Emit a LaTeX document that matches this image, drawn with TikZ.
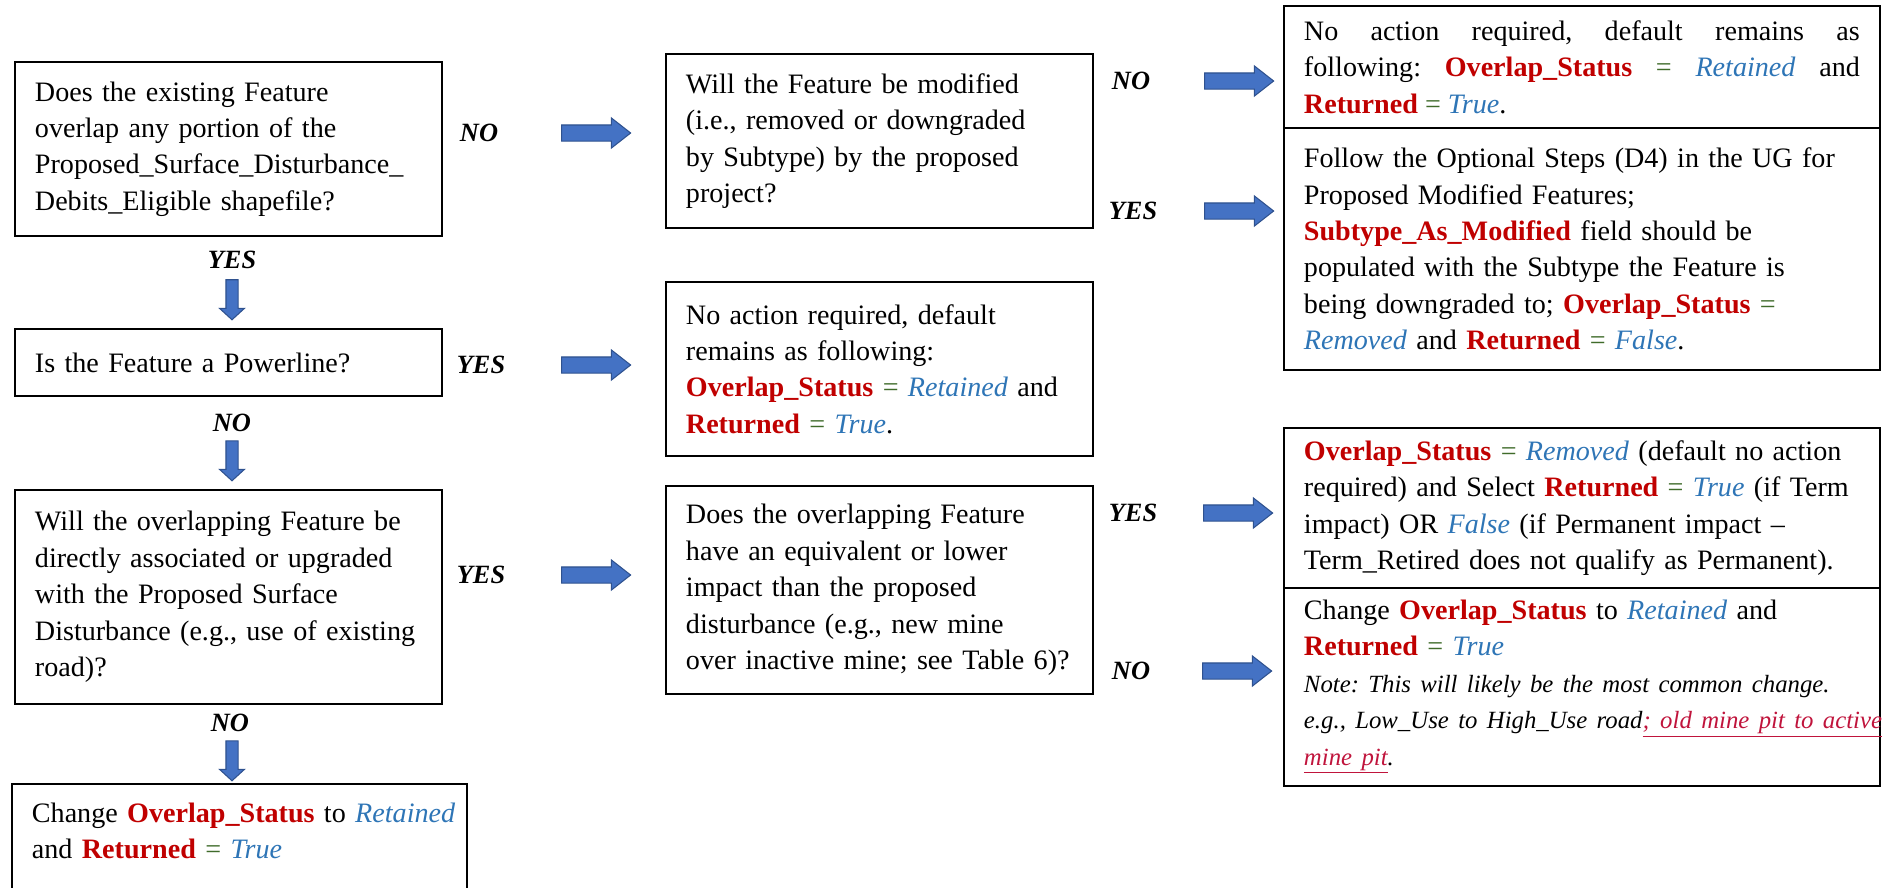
\documentclass[tikz,border=0pt]{standalone}
\usepackage{fontspec}
\setmainfont{Liberation Serif}
\usetikzlibrary{shapes.arrows}
\frenchspacing

\definecolor{fieldred}{HTML}{C00000}
\definecolor{valblue}{HTML}{2E75B6}
\definecolor{eqgreen}{HTML}{3F6B2A}
\definecolor{notered}{HTML}{C0143C}
\definecolor{arrowblue}{HTML}{4472C4}
\definecolor{arrowedge}{HTML}{2F528F}

\newcommand{\fieldname}[1]{\textcolor{fieldred}{\textbf{#1}}}
\newcommand{\fieldval}[1]{\textcolor{valblue}{\textit{#1}}}
\newcommand{\eqsign}{\textcolor{eqgreen}{=}}
\newcommand{\notefont}{\fontsize{14.1}{20.7}\selectfont\itshape}

\begin{document}
\begin{tikzpicture}[
    x = 0.02cm, y = -0.02cm, % one unit = one pixel, y runs down
    box/.style = {draw, line width=1.1pt, anchor=north west, align=left,
        inner xsep=0.4cm, inner ysep=0pt, font=\fontsize{16}{20.7}\selectfont},
    narrowbox/.style = {box, text width=7.74cm, minimum width=8.54cm},
    widebox/.style = {box, text width=11.12cm, minimum width=11.92cm},
    lbl/.style = {font=\fontsize{15}{16}\selectfont\bfseries\itshape},
    rightarrow/.style = {single arrow, draw=arrowedge, fill=arrowblue, line width=0.6pt,
        inner sep=0.15cm, single arrow head extend=0.14cm,
        single arrow tip angle=76, minimum height=1.38cm},
    downarrow/.style = {rightarrow, rotate=-90, inner sep=0.11cm,
        single arrow head extend=0.13cm, single arrow tip angle=95, minimum height=0.8cm}
    ]
    \useasboundingbox (0,0) rectangle (1900,887);
    \clip (0,0) rectangle (1900,887);

    % left column
    \node[narrowbox, minimum height=3.48cm] (b1) at (14,61)
        {Does the existing Feature\\ overlap any portion of the\\
         Proposed\_Surface\_Disturbance\_\\ Debits\_Eligible shapefile?};
    \node[narrowbox, minimum height=1.34cm] (b2) at (14,328)
        {Is the Feature a Powerline?};
    \node[narrowbox, minimum height=4.28cm] (b3) at (14,489)
        {Will the overlapping Feature be\\ directly associated or upgraded\\
         with the Proposed Surface\\ Disturbance (e.g., use of existing\\ road)?};
    \node[box, text width=8.3cm, minimum width=9.1cm, minimum height=2.6cm] (b4) at (11,783)
        {\mbox{Change \fieldname{Overlap\_Status} to \fieldval{Retained}}\\
         and \fieldname{Returned} \eqsign{} \fieldval{True}\\ \mbox{}};

    % middle column
    \node[narrowbox, minimum height=3.48cm] (b5) at (665,53)
        {Will the Feature be modified\\ (i.e., removed or downgraded\\
         by Subtype) by the proposed\\ project?};
    \node[narrowbox, minimum height=3.48cm] (b6) at (665,281)
        {No action required, default\\ remains as following:\\
         \fieldname{Overlap\_Status} \eqsign{} \fieldval{Retained} and\\
         \fieldname{Returned} \eqsign{} \fieldval{True}.};
    \node[narrowbox, minimum height=4.16cm] (b7) at (665,485)
        {Does the overlapping Feature\\ have an equivalent or lower\\
         impact than the proposed\\ disturbance (e.g., new mine\\
         over inactive mine; see Table 6)?};

    % right column
    \node[widebox, align=justify, minimum height=2.44cm] (b8) at (1283,5)
        {No action required, default remains as\linebreak
         following: \fieldname{Overlap\_Status} \eqsign{} \fieldval{Retained} and\linebreak
         \fieldname{Returned} \eqsign{} \fieldval{True}.};
    \node[widebox, minimum height=4.84cm] (b9) at (1283,127)
        {Follow the Optional Steps (D4) in the UG for\\
         Proposed Modified Features;\\
         \fieldname{Subtype\_As\_Modified} field should be\\
         populated with the Subtype the Feature is\\
         being downgraded to; \fieldname{Overlap\_Status} \eqsign\\
         \fieldval{Removed} and \fieldname{Returned} \eqsign{} \fieldval{False}.};
    \node[widebox, minimum height=3.2cm] (b10) at (1283,427)
        {\fieldname{Overlap\_Status} \eqsign{} \fieldval{Removed} (default no action\\
         required) and Select \fieldname{Returned} \eqsign{} \fieldval{True} (if Term\\
         impact) OR \fieldval{False} (if Permanent impact --\\
         Term\_Retired does not qualify as Permanent).};
    \node[widebox, minimum height=3.96cm] (b11) at (1283,587)
        {Change \fieldname{Overlap\_Status} to \fieldval{Retained} and\\
         \fieldname{Returned} \eqsign{} \fieldval{True}\\
         \mbox{\notefont Note: This will likely be the most common change.}\\
         \mbox{\notefont e.g., Low\_Use to High\_Use road\textcolor{notered}{\underline{; old mine pit to active}}}\\
         \mbox{\notefont\textcolor{notered}{\underline{mine pit}}.}};

    % yes / no labels
    \node[lbl] (l1) at (479,133) {NO};
    \node[lbl] (l2) at (232,260) {YES};
    \node[lbl] (l3) at (481,365) {YES};
    \node[lbl] (l4) at (232,423) {NO};
    \node[lbl] (l5) at (481,575) {YES};
    \node[lbl] (l6) at (230,723) {NO};
    \node[lbl] (l7) at (1131,81) {NO};
    \node[lbl] (l8) at (1133,211) {YES};
    \node[lbl] (l9) at (1133,513) {YES};
    \node[lbl] (l10) at (1131,671) {NO};

    % block arrows
    \node[rightarrow] (a1) at (591,133) {};
    \node[rightarrow] (a2) at (591,365) {};
    \node[rightarrow] (a3) at (591,575) {};
    \node[rightarrow] (a4) at (1234,81) {};
    \node[rightarrow] (a5) at (1234,211) {};
    \node[rightarrow] (a6) at (1233,513) {};
    \node[rightarrow] (a7) at (1232,671) {};
    \node[downarrow] (d1) at (232,297) {};
    \node[downarrow] (d2) at (232,458) {};
    \node[downarrow] (d3) at (232,758) {};
\end{tikzpicture}
\end{document}
